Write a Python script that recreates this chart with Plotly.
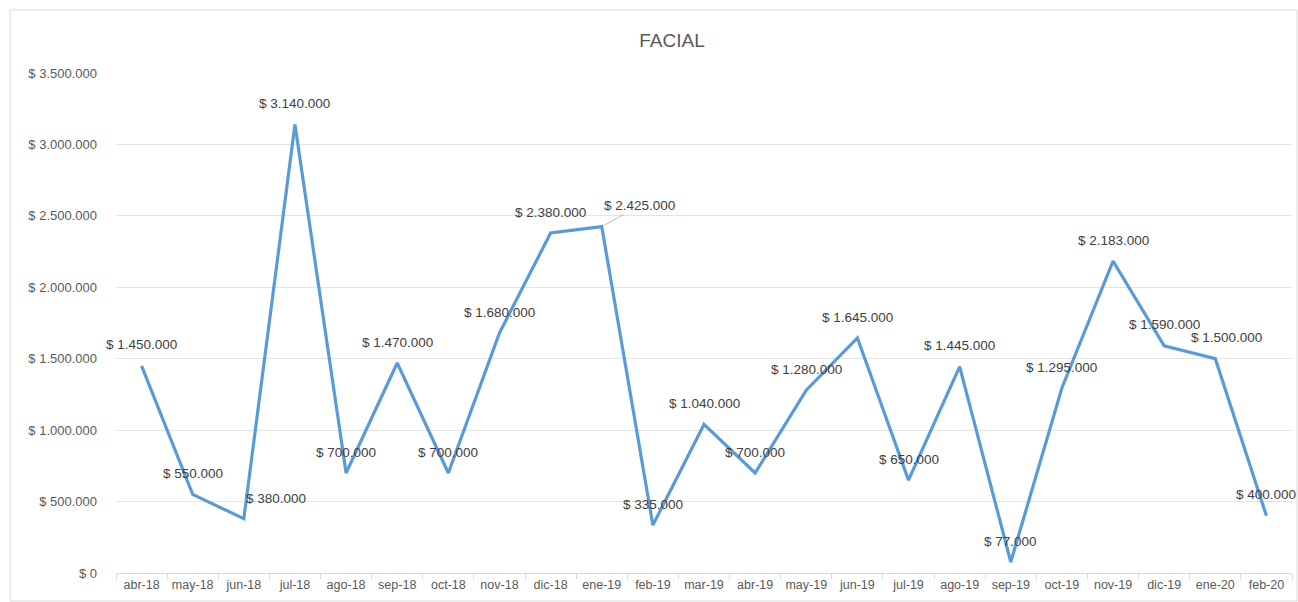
import plotly.graph_objects as go

months = ["abr-18", "may-18", "jun-18", "jul-18", "ago-18", "sep-18", "oct-18", "nov-18",
          "dic-18", "ene-19", "feb-19", "mar-19", "abr-19", "may-19", "jun-19", "jul-19",
          "ago-19", "sep-19", "oct-19", "nov-19", "dic-19", "ene-20", "feb-20"]
values = [1450000, 550000, 380000, 3140000, 700000, 1470000, 700000, 1680000,
          2380000, 2425000, 335000, 1040000, 700000, 1280000, 1645000, 650000,
          1445000, 77000, 1295000, 2183000, 1590000, 1500000, 400000]
y_ticks = [0, 500000, 1000000, 1500000, 2000000, 2500000, 3000000, 3500000]


def fmt(v):
    return "$ " + f"{v:,.0f}".replace(",", ".")


W, H = 1298, 602
L, R, T, B = 116, 6, 73, 29
GREY = "#595959"
FONT = "Liberation Sans, Arial, sans-serif"

fig = go.Figure()
fig.add_trace(go.Scatter(
    x=months, y=values, mode="lines",
    line=dict(color="#5B9BD5", width=3.2),
    hoverinfo="x+y",
))

# data labels
label_offsets = {2: (32, 20), 21: (11, 21)}
for i, (m, v) in enumerate(zip(months, values)):
    if i == 9:
        fig.add_annotation(x=m, y=v, text=fmt(v), showarrow=True, arrowhead=0,
                           arrowwidth=0.8, arrowcolor="#A6A6A6", ax=38, ay=-21,
                           standoff=3, font=dict(size=13.5, color="#404040", family=FONT))
        continue
    xs, ys = label_offsets.get(i, (0, 21))
    fig.add_annotation(x=m, y=v, text=fmt(v), showarrow=False, xshift=xs, yshift=ys,
                       font=dict(size=13.5, color="#404040", family=FONT))

# chart border
pw = W - L - R
ph = H - T - B
fig.add_shape(type="rect", xref="paper", yref="paper",
              x0=(10 - L) / pw, x1=(W - 1 - L) / pw,
              y0=(H - B - (H - 1)) / ph, y1=(H - B - 10) / ph,
              line=dict(color="#D9D9D9", width=1), fillcolor="rgba(0,0,0,0)", layer="below")

fig.update_layout(
    width=W, height=H,
    margin=dict(l=L, r=R, t=T, b=B, autoexpand=False),
    paper_bgcolor="white", plot_bgcolor="white",
    showlegend=False,
    title=dict(text="FACIAL", x=(672 - L) / pw, xref="paper", xanchor="center",
               y=1 - 40 / H, yanchor="middle",
               font=dict(size=19, color=GREY, family=FONT)),
    font=dict(family=FONT, color=GREY),
)
fig.update_xaxes(
    type="category", range=[-0.5, len(months) - 0.5], automargin=False,
    tickson="boundaries", ticks="outside", ticklen=5, tickcolor="#D9D9D9",
    showline=True, linecolor="#D9D9D9", linewidth=1, tickangle=0,
    showgrid=False, tickfont=dict(size=12.5, color=GREY, family=FONT),
)
fig.update_yaxes(
    range=[0, 3500000], tickvals=y_ticks, ticktext=[fmt(v) for v in y_ticks],
    showgrid=True, gridcolor="#E3E3E3", gridwidth=1, zeroline=False, automargin=False,
    showline=False, ticks="", ticklabelstandoff=18,
    tickfont=dict(size=13, color=GREY, family=FONT),
)

fig.write_html("out.html")
